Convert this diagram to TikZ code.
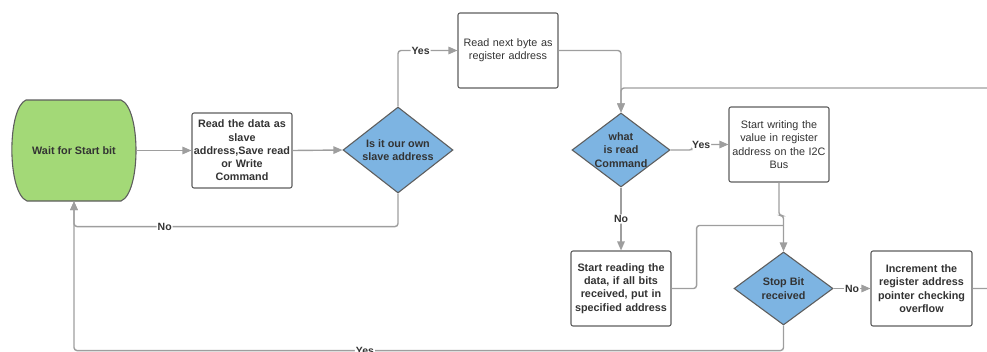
\documentclass[tikz,border=0pt]{standalone}
\usepackage{fontspec}
\setmainfont{Liberation Sans}
\usetikzlibrary{shapes.geometric,arrows.meta}
\definecolor{txt}{HTML}{333333}
\definecolor{edge}{HTML}{5E5E5E}
\definecolor{wire}{HTML}{9E9E9E}
\definecolor{startgreen}{HTML}{A3D977}
\definecolor{decblue}{HTML}{7DB4E2}

\begin{document}
\begin{tikzpicture}[x=1pt,y=-1pt,
  every node/.style={text=txt},
  proc/.style={draw=edge, line width=1.1pt, rounded corners=2pt, fill=white,
    minimum width=100pt, minimum height=75pt, text width=99pt, align=center,
    inner sep=0pt, font=\fontsize{10.8}{13.3}\selectfont},
  procb/.style={proc, font=\fontsize{10.8}{13.3}\selectfont\bfseries},
  decision/.style={diamond, draw=edge, line width=1.1pt, fill=decblue,
    align=center, inner sep=-3pt, font=\fontsize{10.8}{13.3}\selectfont\bfseries},
  conn/.style={draw=wire, line width=1.4pt, rounded corners=3pt,
    -{Triangle[length=9pt,width=7.5pt]}},
  wireline/.style={draw=wire, line width=1.4pt, rounded corners=3pt},
  lbl/.style={fill=white, inner sep=1pt, font=\fontsize{10.5}{12}\selectfont\bfseries}
]
\useasboundingbox (0,0) rectangle (987,351);

% start terminal: flat top and bottom, bulging sides
\filldraw[fill=startgreen, draw=edge, line width=1.1pt]
  (26,100) -- (121,100)
  .. controls (141,108) and (141,193) .. (121,201)
  -- (27,201)
  .. controls (7,193) and (7,108) .. (26,100) -- cycle;
\node[minimum width=124pt, minimum height=101pt, inner sep=0pt,
  font=\fontsize{10.8}{13.3}\selectfont\bfseries] (start) at (74,150.5) {Wait for Start bit};

% process boxes
\node[procb] (box1) at (242,150.5) {Read the data as\\ slave\\ address,Save read\\ or Write\\ Command};
\node[proc]  (box2) at (508,50.5)  {Read next byte as\\ register address};
\node[proc]  (box3) at (779,144.5) {Start writing the\\ value in register\\ address on the I2C\\ Bus};
\node[procb] (box4) at (621,288.5) {Start reading the\\ data, if all bits\\ received, put in\\ specified address};
\node[procb, minimum width=101pt] (incr) at (921.5,288.5) {Increment the\\ register address\\ pointer checking\\ overflow};

% decisions
\node[decision, minimum width=110pt, minimum height=86pt, aspect=1.28] (d1) at (398,150) {Is it our own\\ slave address};
\node[decision, minimum width=98pt, minimum height=74pt, aspect=1.32] (d2) at (621,150) {what\\ is read\\ Command};
\node[decision, minimum width=99pt, minimum height=73pt, aspect=1.36] (stop) at (783.5,288.5) {Stop Bit\\ received};

\coordinate (ret) at (1010,88);

% connectors
\draw[conn] (start.east) -- (box1.west);
\draw[conn] (box1.east) -- (d1.west);
\draw[conn] (d1.north) |- node[lbl,pos=0.69]{Yes} (box2.west);
\draw[conn] (box2.east) -| (d2.north);
\draw[conn] (incr.east) -| (ret) -| (d2.north);
\draw[conn] (d2.east) -- ++(22,0) |- node[lbl,pos=0.62]{Yes} (box3.west);
\draw[conn] (d2.south) -- node[lbl]{No} (box4.north);
\draw[conn] (box3.south) -- ++(0,33) -| (stop.north);
\draw[wireline] (box4.east) -- ++(25,0) |- ([yshift=26pt]stop.north);
\draw[conn] (stop.east) -- node[lbl]{No} (incr.west);
\draw[conn] (stop.south) -- ++(0,25) -| node[lbl,pos=0.295]{Yes} (start.south);
\draw[conn] (d1.south) -- ++(0,33) -| node[lbl,pos=0.36]{No} (start.south);
\end{tikzpicture}
\end{document}
